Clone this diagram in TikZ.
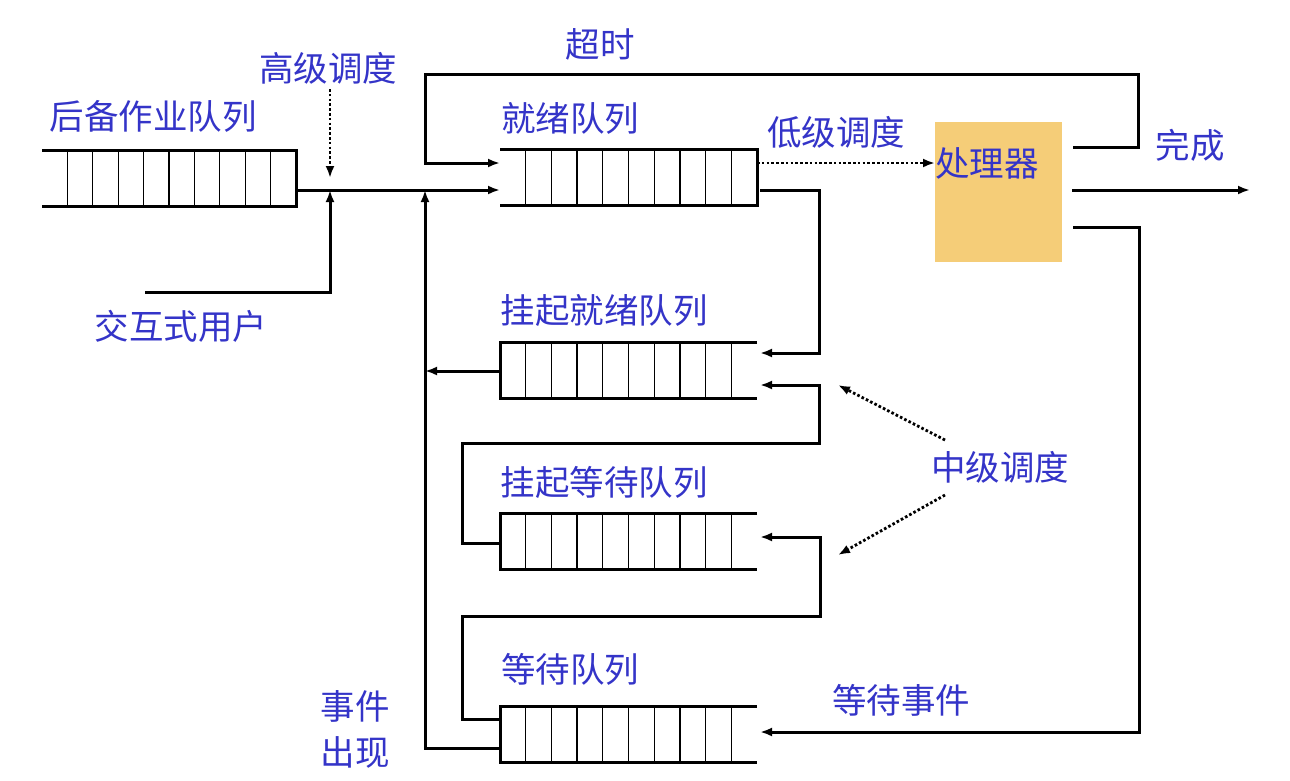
\documentclass[tikz,border=0pt]{standalone}
\usepackage{fontspec}
\setmainfont{Noto Sans CJK SC}
\usetikzlibrary{arrows.meta,calc}
\definecolor{txtblue}{RGB}{52,52,200}
\definecolor{procfill}{RGB}{245,205,120}
\tikzset{
  lbl/.style={text=txtblue, inner sep=0pt, font=\fontsize{34.5}{38}\selectfont},
  qnode/.style={minimum width=257pt, minimum height=56pt, inner sep=0pt, outer sep=0pt},
  thk/.style={line width=3pt},
  cellline/.style={line width=1.3pt},
  conn/.style={line width=3pt, -{Latex[length=12pt,width=9pt]}},
  dotarrow/.style={line width=2.8pt, dash pattern=on 2.6pt off 2.2pt, -{Latex[length=12pt,width=9pt]}},
}
\newcommand{\qcells}[1]{%
  \foreach \i in {1,...,9}
    \draw[cellline] ($(#1.north west)!\i/10!(#1.north east)$) -- ($(#1.south west)!\i/10!(#1.south east)$);
}
\begin{document}
\begin{tikzpicture}[x=1pt,y=-1pt]
\useasboundingbox (0,0) rectangle (1290,780);

% processor
\node[qnode, minimum width=127pt, minimum height=140pt, fill=procfill] (proc) at (998.5,192) {};
\node[lbl] (proclbl) at (987,163) {处理器};

% queues
\node[qnode, minimum width=254pt] (backup) at (169,178) {};
\node[qnode] (ready) at (628.5,177) {};
\node[qnode] (sready) at (628.5,370) {};
\node[qnode] (swait) at (628.5,541) {};
\node[qnode] (wait) at (628.5,734.5) {};

% backup: open left, closed right
\draw[thk] (backup.north west) -- (backup.north east) -- (backup.south east) -- (backup.south west);
\qcells{backup}
% ready: open left, closed right
\draw[thk] (ready.north west) -- (ready.north east) -- (ready.south east) -- (ready.south west);
\qcells{ready}
% others: closed left, open right
\draw[thk] (sready.north east) -- (sready.north west) -- (sready.south west) -- (sready.south east);
\qcells{sready}
\draw[thk] (swait.north east) -- (swait.north west) -- (swait.south west) -- (swait.south east);
\qcells{swait}
\draw[thk] (wait.north east) -- (wait.north west) -- (wait.south west) -- (wait.south east);
\qcells{wait}

% labels
\node[lbl] (timeout) at (600,44) {超时};
\node[lbl] (hls) at (328,68) {高级调度};
\node[lbl] (backuplbl) at (153,116) {后备作业队列};
\node[lbl] (readylbl) at (570,118) {就绪队列};
\node[lbl] (lls) at (836,132) {低级调度};
\node[lbl] (done) at (1190,145) {完成};
\node[lbl] (iu) at (181,326) {交互式用户};
\node[lbl] (sreadylbl) at (604,310) {挂起就绪队列};
\node[lbl] (mls) at (1000,467) {中级调度};
\node[lbl] (swaitlbl) at (604,482) {挂起等待队列};
\node[lbl] (waitlbl) at (570,669) {等待队列};
\node[lbl] (waitev) at (901,700) {等待事件};
\node[lbl, align=center, font=\fontsize{34.5}{46}\selectfont] (evt) at (355,729) {事件\\出现};

% coordinates
\coordinate (iustart) at (145,292);
\coordinate (hlsend) at (330,178);
\coordinate (doneend) at (1250,190);
\coordinate (m1) at (838,385);
\coordinate (m2) at (838,555);

% main line backup -> ready
\draw[conn] (backup.east |- 0,190) -- (ready.west |- 0,190);
% interactive users
\draw[conn] (iustart) -- (330,292) -- (330,190);
% high-level scheduling
\draw[dotarrow] (330,89) -- (hlsend);
% timeout loop
\draw[conn] (1073,147) -- (1138,147) -- (1138,74) -- (425,74) -- (425,163) -- (ready.west |- 0,163);
% low-level scheduling
\draw[dotarrow] (ready.east |- 0,163) -- (proc.west |- 0,163);
% completion
\draw[conn] (1072,190) -- (doneend);
% wait event
\draw[conn] (1073,227) -- (1139,227) -- (1139,732) -- (760,732);
% ready -> suspended ready
\draw[conn] (760,190) -- (819,190) -- (819,353) -- (760,353);
% suspended ready -> main
\draw[conn] (sready.west |- 0,371) -- (425,371);
% suspended wait -> suspended ready
\draw[conn] (swait.west |- 0,543) -- (462,543) -- (462,443) -- (819,443) -- (819,385) -- (760,385);
% wait -> suspended wait
\draw[conn] (wait.west |- 0,719) -- (462,719) -- (462,616) -- (820,616) -- (820,537) -- (760,537);
% event occurs
\draw[conn] (wait.west |- 0,748) -- (425,748) -- (425,190);
% mid-level scheduling
\draw[dotarrow] (945,440) -- (m1);
\draw[dotarrow] (945,495) -- (m2);
\end{tikzpicture}
\end{document}
